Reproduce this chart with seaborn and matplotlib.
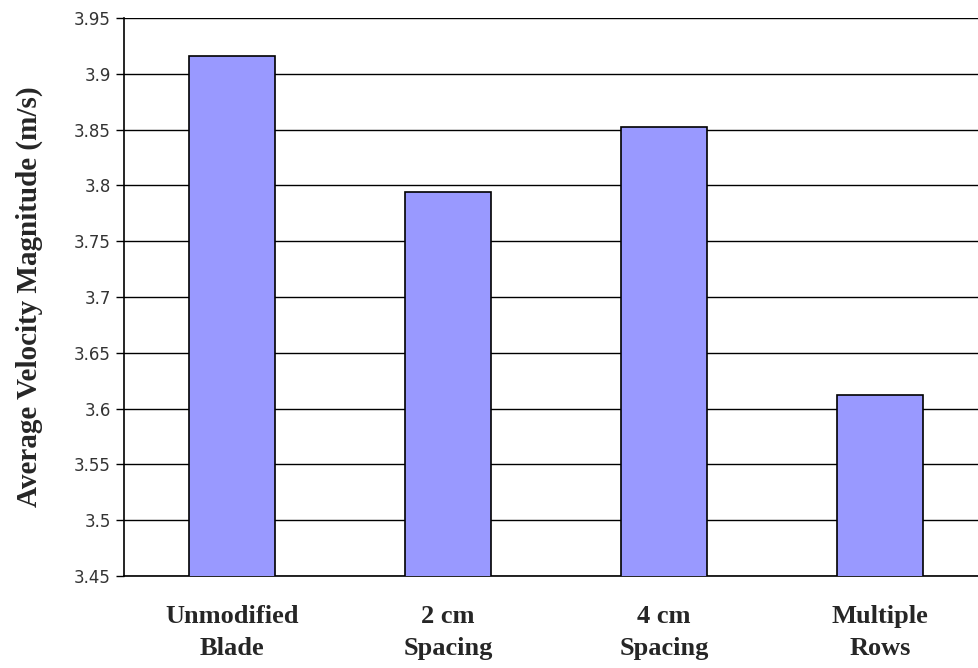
import matplotlib.pyplot as plt
import seaborn as sns
from matplotlib.ticker import FixedLocator, MultipleLocator

categories = ["Unmodified\nBlade", "2 cm\nSpacing", "4 cm\nSpacing", "Multiple\nRows"]
velocity = [3.916, 3.794, 3.852, 3.612]

sns.set_style("white")

fig = plt.figure(figsize=(9.79, 6.68), dpi=100)
ax = fig.add_axes([124 / 979, 1 - 576 / 668, (988 - 124) / 979, (576 - 18) / 668])

sns.barplot(x=categories, y=velocity, color="#9999FF", edgecolor="black",
            linewidth=1.2, width=0.4, saturation=1, ax=ax, zorder=3)

ax.set_ylim(3.45, 3.95)
ax.set_xlim(-0.5, 3.5)
ax.yaxis.set_major_locator(MultipleLocator(0.05))
ax.set_yticklabels([f"{v:g}" for v in ax.get_yticks()], family="DejaVu Sans", fontsize=12, color="#333333")
ax.yaxis.grid(True, color="black", linewidth=1)
ax.set_axisbelow(True)

ax.set_xticks(range(len(categories)))
ax.set_xticklabels(categories, family="Liberation Serif", fontweight="bold", fontsize=19, linespacing=1.5)
ax.xaxis.set_minor_locator(FixedLocator([0.5, 1.5, 2.5]))
ax.tick_params(axis="x", which="major", length=0, pad=21)
ax.tick_params(axis="x", which="minor", length=6, width=1, color="black", direction="out")
ax.tick_params(axis="y", length=6, width=1, color="black", direction="out", left=True)

ax.set_ylabel("Average Velocity Magnitude (m/s)", family="Liberation Serif",
              fontweight="bold", fontsize=21, labelpad=22)
ax.set_xlabel("")

for side in ["top", "right"]:
    ax.spines[side].set_visible(False)
for side in ["left", "bottom"]:
    ax.spines[side].set_color("black")
    ax.spines[side].set_linewidth(1.2)

fig.savefig("out.png", dpi=100)
